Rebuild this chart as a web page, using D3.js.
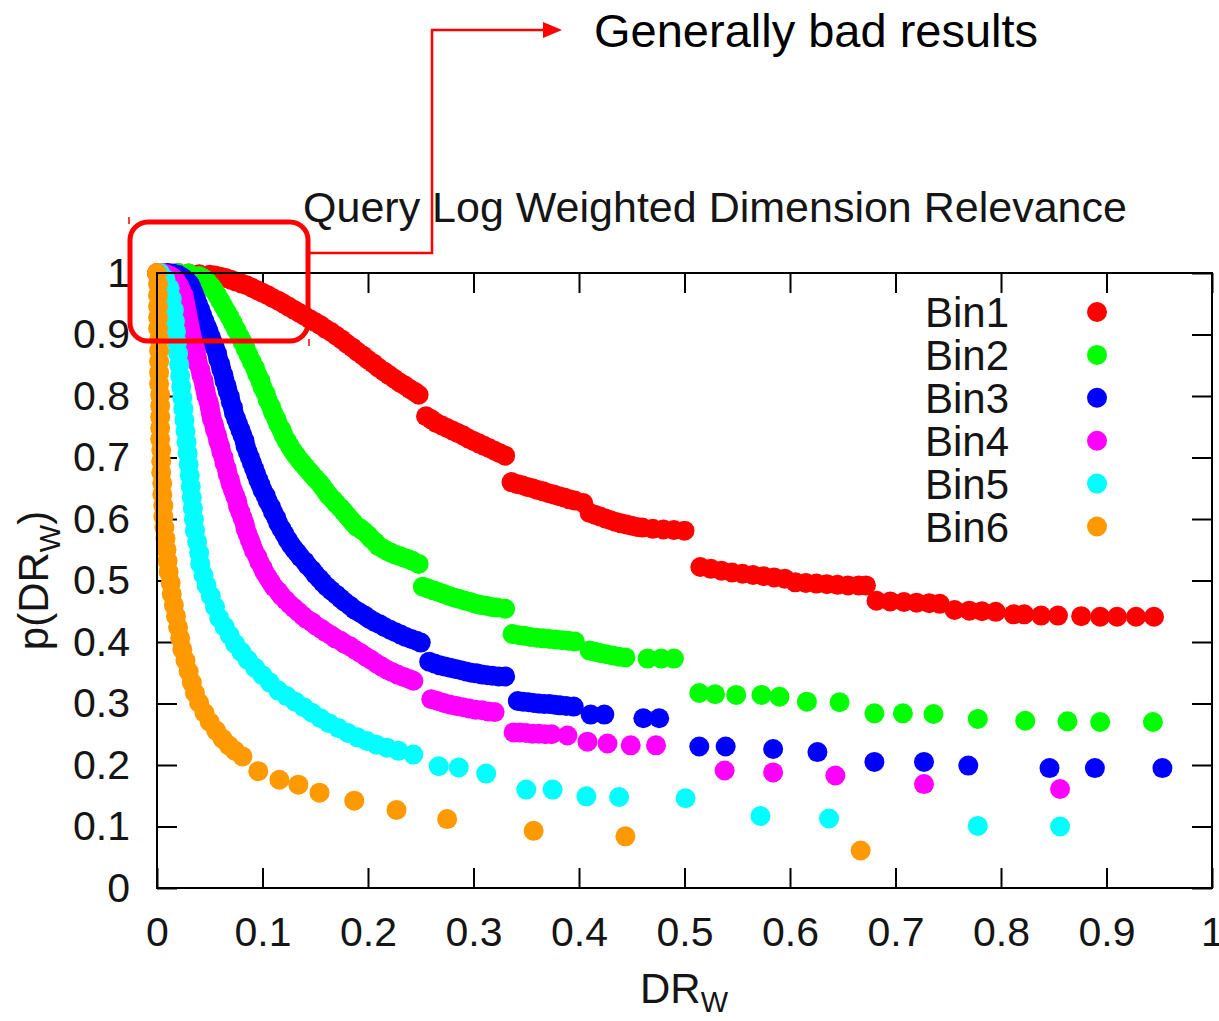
<!DOCTYPE html>
<html>
<head>
<meta charset="utf-8">
<script src="https://cdn.jsdelivr.net/npm/d3@7"></script>
<style>
  body { margin: 0; background: #fff; }
  svg { display: block; }
</style>
</head>
<body>
<div id="chart"></div>
<script>
// series names + colours (gnuplot default palette)
const binNames = ["Bin1", "Bin2", "Bin3", "Bin4", "Bin5", "Bin6"]
const binColors = ["#ff0000", "#00ff00", "#0000ff", "#ff00ff", "#00ffff", "#ff9900"]

// [DR_W, p(DR_W)]
const bin1 = [[0.000,1.000],[0.010,1.000],[0.020,1.000],[0.030,0.999],[0.040,0.998],[0.050,0.997],[0.055,0.996],[0.060,0.994],[0.065,0.992],[0.070,0.989],[0.075,0.986],[0.080,0.983],[0.085,0.980],[0.090,0.976],[0.095,0.972],[0.100,0.968],[0.105,0.964],[0.110,0.959],[0.115,0.955],[0.120,0.950],[0.125,0.945],[0.130,0.940],[0.135,0.935],[0.140,0.930],[0.145,0.925],[0.150,0.920],[0.155,0.915],[0.160,0.909],[0.165,0.904],[0.170,0.898],[0.175,0.892],[0.180,0.885],[0.185,0.879],[0.190,0.872],[0.195,0.866],[0.200,0.859],[0.205,0.853],[0.210,0.846],[0.215,0.840],[0.220,0.834],[0.225,0.828],[0.230,0.822],[0.235,0.817],[0.240,0.811],[0.244,0.807],[0.248,0.802],
  [0.255,0.767],[0.260,0.762],[0.265,0.756],[0.270,0.752],[0.275,0.748],[0.280,0.744],[0.285,0.740],[0.290,0.736],[0.295,0.731],[0.300,0.727],[0.305,0.723],[0.310,0.719],[0.315,0.715],[0.320,0.711],[0.325,0.707],[0.330,0.703],
  [0.336,0.660],[0.341,0.657],[0.346,0.655],[0.351,0.652],[0.356,0.650],[0.361,0.647],[0.366,0.645],[0.371,0.642],[0.376,0.640],[0.381,0.637],[0.386,0.635],[0.391,0.632],[0.396,0.630],[0.404,0.626],[0.410,0.610],[0.415,0.607],[0.420,0.604],[0.425,0.601],[0.430,0.598],[0.435,0.595],[0.440,0.593],[0.445,0.591],[0.450,0.589],[0.455,0.587],[0.460,0.586],[0.470,0.584],[0.480,0.583],[0.490,0.582],[0.500,0.581],
  [0.515,0.522],[0.525,0.519],[0.535,0.516],[0.545,0.513],[0.555,0.511],[0.565,0.509],[0.575,0.507],[0.585,0.505],[0.595,0.503],[0.605,0.497],[0.615,0.496],[0.625,0.495],[0.635,0.494],[0.645,0.493],[0.655,0.492],[0.665,0.492],[0.672,0.492],
  [0.682,0.467],[0.695,0.466],[0.708,0.465],[0.720,0.464],[0.732,0.463],[0.742,0.462],[0.756,0.452],[0.770,0.451],[0.782,0.450],[0.795,0.449],[0.812,0.445],[0.822,0.445],[0.838,0.443],[0.854,0.443],[0.876,0.442],[0.894,0.441],[0.910,0.441],[0.928,0.441],[0.945,0.441]]

const bin2 = [[0.020,1.000],[0.030,0.999],[0.040,0.995],[0.044,0.991],[0.048,0.985],[0.051,0.979],[0.054,0.972],[0.057,0.964],[0.060,0.955],[0.063,0.946],[0.066,0.937],[0.069,0.928],[0.072,0.918],[0.075,0.908],[0.078,0.898],[0.081,0.888],[0.084,0.877],[0.087,0.866],[0.090,0.855],[0.093,0.845],[0.095,0.835],[0.098,0.825],[0.100,0.814],[0.103,0.804],[0.105,0.793],[0.108,0.783],[0.110,0.773],[0.113,0.763],[0.115,0.754],[0.118,0.745],[0.120,0.736],[0.123,0.727],[0.126,0.718],[0.129,0.710],[0.132,0.703],[0.135,0.696],[0.138,0.690],[0.141,0.684],[0.144,0.678],[0.147,0.672],[0.150,0.666],[0.154,0.659],[0.157,0.652],[0.160,0.645],[0.163,0.638],[0.167,0.631],[0.170,0.625],[0.174,0.618],[0.177,0.612],[0.180,0.606],[0.183,0.600],[0.186,0.594],[0.189,0.588],[0.193,0.584],[0.196,0.580],[0.200,0.574],[0.203,0.568],[0.207,0.562],[0.210,0.556],[0.214,0.552],[0.218,0.548],[0.222,0.545],[0.226,0.542],[0.230,0.540],[0.234,0.537],[0.238,0.535],[0.242,0.532],[0.248,0.527],
  [0.252,0.490],[0.257,0.487],[0.262,0.484],[0.267,0.481],[0.272,0.478],[0.277,0.475],[0.282,0.472],[0.287,0.470],[0.292,0.467],[0.297,0.465],[0.302,0.462],[0.307,0.460],[0.312,0.459],[0.317,0.457],[0.322,0.456],[0.330,0.454],
  [0.337,0.413],[0.343,0.411],[0.348,0.410],[0.354,0.408],[0.360,0.407],[0.366,0.406],[0.372,0.405],[0.378,0.404],[0.384,0.403],[0.390,0.402],[0.396,0.401],[0.410,0.386],[0.415,0.384],[0.420,0.382],[0.426,0.380],[0.432,0.378],[0.438,0.376],[0.444,0.375],[0.465,0.373],[0.478,0.373],[0.490,0.373],
  [0.514,0.317],[0.529,0.315],[0.549,0.314],[0.573,0.314],[0.590,0.311],[0.616,0.303],[0.647,0.302],[0.680,0.284],[0.707,0.284],[0.736,0.283],[0.778,0.275],[0.823,0.272],[0.863,0.271],[0.894,0.270],[0.944,0.270]]

const bin3 = [[0.010,1.000],[0.015,0.999],[0.020,0.997],[0.024,0.993],[0.028,0.988],[0.031,0.982],[0.033,0.975],[0.035,0.967],[0.037,0.958],[0.039,0.949],[0.041,0.940],[0.043,0.931],[0.045,0.922],[0.047,0.913],[0.049,0.905],[0.051,0.896],[0.053,0.887],[0.055,0.878],[0.057,0.869],[0.058,0.860],[0.060,0.852],[0.061,0.843],[0.063,0.834],[0.064,0.825],[0.066,0.816],[0.067,0.808],[0.069,0.799],[0.070,0.790],[0.072,0.781],[0.073,0.772],[0.075,0.763],[0.077,0.754],[0.079,0.745],[0.081,0.736],[0.083,0.727],[0.084,0.718],[0.086,0.709],[0.088,0.700],[0.090,0.691],[0.092,0.682],[0.094,0.673],[0.096,0.664],[0.098,0.656],[0.100,0.647],[0.103,0.638],[0.105,0.629],[0.108,0.620],[0.110,0.611],[0.113,0.602],[0.115,0.593],[0.118,0.584],[0.121,0.575],[0.124,0.566],[0.127,0.558],[0.130,0.551],[0.133,0.545],[0.136,0.538],[0.140,0.531],[0.143,0.524],[0.147,0.517],[0.150,0.510],[0.154,0.503],[0.157,0.497],[0.161,0.490],[0.165,0.484],[0.170,0.477],[0.174,0.471],[0.178,0.465],[0.183,0.459],[0.187,0.453],[0.192,0.448],[0.197,0.443],[0.201,0.438],[0.206,0.433],[0.211,0.429],[0.216,0.424],[0.221,0.420],[0.226,0.416],[0.231,0.412],[0.236,0.408],[0.241,0.405],[0.246,0.402],[0.250,0.399],
  [0.258,0.368],[0.263,0.365],[0.268,0.362],[0.273,0.360],[0.278,0.358],[0.283,0.356],[0.288,0.354],[0.293,0.352],[0.298,0.350],[0.303,0.349],[0.308,0.347],[0.313,0.346],[0.318,0.345],[0.324,0.344],[0.330,0.344],
  [0.342,0.304],[0.347,0.303],[0.352,0.302],[0.357,0.301],[0.362,0.300],[0.367,0.299],[0.372,0.299],[0.377,0.298],[0.382,0.297],[0.388,0.296],[0.395,0.295],[0.411,0.282],[0.424,0.282],[0.461,0.276],[0.476,0.276],
  [0.514,0.230],[0.539,0.230],[0.584,0.226],[0.626,0.221],[0.680,0.205],[0.727,0.205],[0.769,0.199],[0.846,0.195],[0.889,0.195],[0.953,0.195]]

const bin4 = [[0.005,1.000],[0.009,0.998],[0.013,0.995],[0.016,0.991],[0.019,0.985],[0.021,0.979],[0.023,0.972],[0.025,0.965],[0.026,0.957],[0.027,0.949],[0.028,0.940],[0.029,0.931],[0.030,0.922],[0.031,0.913],[0.032,0.905],[0.033,0.896],[0.034,0.888],[0.036,0.879],[0.037,0.870],[0.038,0.861],[0.039,0.852],[0.041,0.843],[0.042,0.834],[0.044,0.825],[0.045,0.816],[0.046,0.808],[0.047,0.799],[0.049,0.790],[0.050,0.781],[0.051,0.772],[0.052,0.763],[0.054,0.754],[0.055,0.745],[0.057,0.736],[0.058,0.727],[0.060,0.718],[0.061,0.709],[0.063,0.700],[0.064,0.691],[0.066,0.682],[0.067,0.673],[0.069,0.664],[0.070,0.656],[0.072,0.647],[0.074,0.638],[0.076,0.629],[0.077,0.620],[0.079,0.611],[0.081,0.602],[0.083,0.593],[0.084,0.584],[0.086,0.575],[0.088,0.566],[0.090,0.557],[0.092,0.548],[0.095,0.539],[0.097,0.530],[0.100,0.521],[0.102,0.513],[0.105,0.505],[0.108,0.497],[0.111,0.489],[0.115,0.482],[0.118,0.475],[0.122,0.468],[0.126,0.461],[0.130,0.455],[0.134,0.449],[0.138,0.443],[0.142,0.437],[0.147,0.432],[0.151,0.426],[0.156,0.421],[0.160,0.416],[0.165,0.411],[0.169,0.406],[0.174,0.402],[0.178,0.397],[0.183,0.393],[0.188,0.387],[0.193,0.382],[0.198,0.376],[0.203,0.371],[0.208,0.365],[0.213,0.360],[0.218,0.355],[0.223,0.351],[0.228,0.347],[0.234,0.343],[0.239,0.340],[0.243,0.337],
  [0.260,0.307],[0.266,0.304],[0.272,0.301],[0.278,0.298],[0.284,0.296],[0.290,0.294],[0.296,0.292],[0.302,0.290],[0.308,0.289],[0.314,0.287],[0.320,0.286],
  [0.338,0.253],[0.344,0.253],[0.350,0.252],[0.356,0.251],[0.362,0.251],[0.368,0.250],[0.374,0.250],[0.389,0.248],[0.408,0.238],[0.427,0.235],[0.449,0.232],[0.473,0.232],
  [0.538,0.191],[0.584,0.188],[0.643,0.183],[0.727,0.169],[0.856,0.161]]

const bin5 = [[0.003,1.000],[0.008,0.990],[0.012,0.975],[0.014,0.958],[0.016,0.940],[0.017,0.922],[0.018,0.905],[0.019,0.887],[0.020,0.869],[0.021,0.851],[0.022,0.833],[0.023,0.815],[0.024,0.797],[0.025,0.779],[0.026,0.761],[0.027,0.743],[0.028,0.725],[0.029,0.707],[0.030,0.689],[0.031,0.671],[0.032,0.653],[0.033,0.635],[0.034,0.617],[0.035,0.599],[0.036,0.581],[0.038,0.563],[0.040,0.545],[0.041,0.527],[0.044,0.509],[0.047,0.492],[0.051,0.475],[0.055,0.457],[0.059,0.439],[0.064,0.425],[0.069,0.411],[0.074,0.397],[0.080,0.384],[0.086,0.371],[0.093,0.358],[0.100,0.346],[0.107,0.334],[0.115,0.321],[0.123,0.312],[0.131,0.303],[0.139,0.294],[0.147,0.285],[0.155,0.276],[0.163,0.268],[0.172,0.260],[0.181,0.252],[0.190,0.245],[0.199,0.239],[0.208,0.233],[0.218,0.228],[0.229,0.223],[0.243,0.217],
  [0.267,0.198],[0.286,0.196],[0.312,0.186],[0.350,0.160],[0.375,0.160],[0.407,0.149],[0.438,0.148],[0.501,0.146],[0.572,0.117],[0.637,0.113],[0.778,0.101],[0.856,0.100]]

const bin6 = [[0.000,1.000],[0.001,0.982],[0.001,0.964],[0.001,0.946],[0.001,0.928],[0.001,0.910],[0.002,0.892],[0.002,0.874],[0.002,0.856],[0.002,0.838],[0.002,0.820],[0.003,0.802],[0.003,0.784],[0.003,0.766],[0.003,0.748],[0.003,0.730],[0.004,0.712],[0.004,0.694],[0.004,0.676],[0.005,0.658],[0.005,0.640],[0.006,0.622],[0.006,0.604],[0.007,0.586],[0.008,0.568],[0.009,0.550],[0.010,0.532],[0.011,0.514],[0.013,0.496],[0.014,0.478],[0.016,0.460],[0.018,0.442],[0.020,0.424],[0.022,0.406],[0.024,0.388],[0.027,0.370],[0.030,0.352],[0.033,0.334],[0.036,0.317],[0.040,0.301],[0.045,0.285],[0.050,0.270],[0.056,0.256],[0.062,0.243],[0.068,0.232],[0.074,0.223],[0.081,0.214],
  [0.096,0.190],[0.116,0.176],[0.134,0.168],[0.154,0.155],[0.187,0.142],[0.227,0.127],[0.275,0.112],[0.357,0.093],[0.444,0.084],[0.667,0.061]]

const xTicks = [0, 0.1, 0.2, 0.3, 0.4, 0.5, 0.6, 0.7, 0.8, 0.9, 1]
const xTickLabels = ["0", "0.1", "0.2", "0.3", "0.4", "0.5", "0.6", "0.7", "0.8", "0.9", "1"]
const yTicks = [0, 0.1, 0.2, 0.3, 0.4, 0.5, 0.6, 0.7, 0.8, 0.9, 1]
const yTickLabels = ["0", "0.1", "0.2", "0.3", "0.4", "0.5", "0.6", "0.7", "0.8", "0.9", "1"]

const titleText = "Query Log Weighted Dimension Relevance"
const noteText = "Generally bad results"

const series = [bin1, bin2, bin3, bin4, bin5, bin6]

const width = 1219,
    height = 1021

const margin = ({
    top: 273,
    right: 7,
    bottom: 133,
    left: 157
})

const font = "'Liberation Sans', Arial, Helvetica, sans-serif"

const x = d3.scaleLinear()
    .domain([0, 1])
    .range([margin.left, width - margin.right])

const y = d3.scaleLinear()
    .domain([0, 1])
    .range([height - margin.bottom, margin.top])

const svg = d3.select("#chart").append("svg")
    .attr("width", width)
    .attr("height", height)
    .attr("font-family", font)

svg.append("rect")
    .attr("width", width)
    .attr("height", height)
    .attr("fill", "#fff")

// ticks on all four sides, pointing inwards
const tickLen = -20

const bottomAxis = svg.append("g")
    .attr("transform", `translate(0,${y(0)})`)
    .call(d3.axisBottom(x).tickValues(xTicks).tickSize(tickLen).tickSizeOuter(0)
        .tickPadding(29).tickFormat((d, i) => xTickLabels[i]))

const leftAxis = svg.append("g")
    .attr("transform", `translate(${x(0)},0)`)
    .call(d3.axisLeft(y).tickValues(yTicks).tickSize(tickLen).tickSizeOuter(0)
        .tickPadding(27).tickFormat((d, i) => yTickLabels[i]))

const topAxis = svg.append("g")
    .attr("transform", `translate(0,${y(1)})`)
    .call(d3.axisTop(x).tickValues(xTicks).tickSize(tickLen).tickSizeOuter(0).tickFormat(""))

const rightAxis = svg.append("g")
    .attr("transform", `translate(${x(1)},0)`)
    .call(d3.axisRight(y).tickValues(yTicks).tickSize(tickLen).tickSizeOuter(0).tickFormat(""))

for (const ax of [bottomAxis, leftAxis, topAxis, rightAxis]) {
    ax.select(".domain").remove()
    ax.selectAll(".tick line").attr("stroke", "#000").attr("stroke-width", 2)
    ax.selectAll(".tick text")
        .attr("font-size", 41)
        .attr("font-family", font)
        .attr("fill", "#151515")
}

// data points
series.forEach((pts, i) => {
    svg.append("g")
        .attr("fill", binColors[i])
        .selectAll("circle")
        .data(pts)
        .join("circle")
        .attr("cx", d => x(d[0]))
        .attr("cy", d => y(d[1]))
        .attr("r", 10)
})

// plot border
svg.append("rect")
    .attr("x", x(0))
    .attr("y", y(1))
    .attr("width", x(1) - x(0))
    .attr("height", y(0) - y(1))
    .attr("fill", "none")
    .attr("stroke", "#000")
    .attr("stroke-width", 2)

// legend
const legend = svg.append("g")
    .selectAll("g")
    .data(binNames)
    .join("g")
    .attr("transform", (d, i) => `translate(0,${312 + i * 42.9})`)

legend.append("text")
    .attr("x", 925)
    .attr("dy", "0.36em")
    .attr("font-size", 42)
    .attr("fill", "#151515")
    .text(d => d)

legend.append("circle")
    .attr("cx", 1097)
    .attr("r", 10)
    .attr("fill", (d, i) => binColors[i])

// title
svg.append("text")
    .attr("x", 715)
    .attr("y", 222)
    .attr("text-anchor", "middle")
    .attr("font-size", 43)
    .attr("fill", "#151515")
    .text(titleText)

// axis labels
const xLabel = svg.append("text")
    .attr("x", 684)
    .attr("y", 1003)
    .attr("text-anchor", "middle")
    .attr("font-size", 42)
    .attr("fill", "#151515")
xLabel.append("tspan").text("DR")
xLabel.append("tspan").attr("font-size", 29).attr("dy", 9).text("W")

const yLabel = svg.append("text")
    .attr("transform", `translate(48,${(y(0) + y(1)) / 2}) rotate(-90)`)
    .attr("text-anchor", "middle")
    .attr("font-size", 42)
    .attr("fill", "#151515")
yLabel.append("tspan").text("p(DR")
yLabel.append("tspan").attr("font-size", 29).attr("dy", 12).text("W")
yLabel.append("tspan").attr("dy", -12).text(")")

// annotation: box round the top-left corner + elbow arrow to the note
const note = svg.append("g")

note.append("rect")
    .attr("x", 130)
    .attr("y", 222)
    .attr("width", 178)
    .attr("height", 119)
    .attr("rx", 18)
    .attr("fill", "none")
    .attr("stroke", "#ff0000")
    .attr("stroke-width", 5)

note.append("path")
    .attr("d", "M310,253 H432 V30 H546")
    .attr("fill", "none")
    .attr("stroke", "#ff0000")
    .attr("stroke-width", 2.5)

note.append("path")
    .attr("d", "M543,22 L562,30 L543,38 Z")
    .attr("fill", "#ff0000")

note.append("path")
    .attr("d", "M129,217 V224 M309,339 V346")
    .attr("stroke", "#ff0000")
    .attr("stroke-width", 1.5)

svg.append("text")
    .attr("x", 594)
    .attr("y", 47)
    .attr("font-size", 47)
    .attr("fill", "#000")
    .text(noteText)
</script>
</body>
</html>
